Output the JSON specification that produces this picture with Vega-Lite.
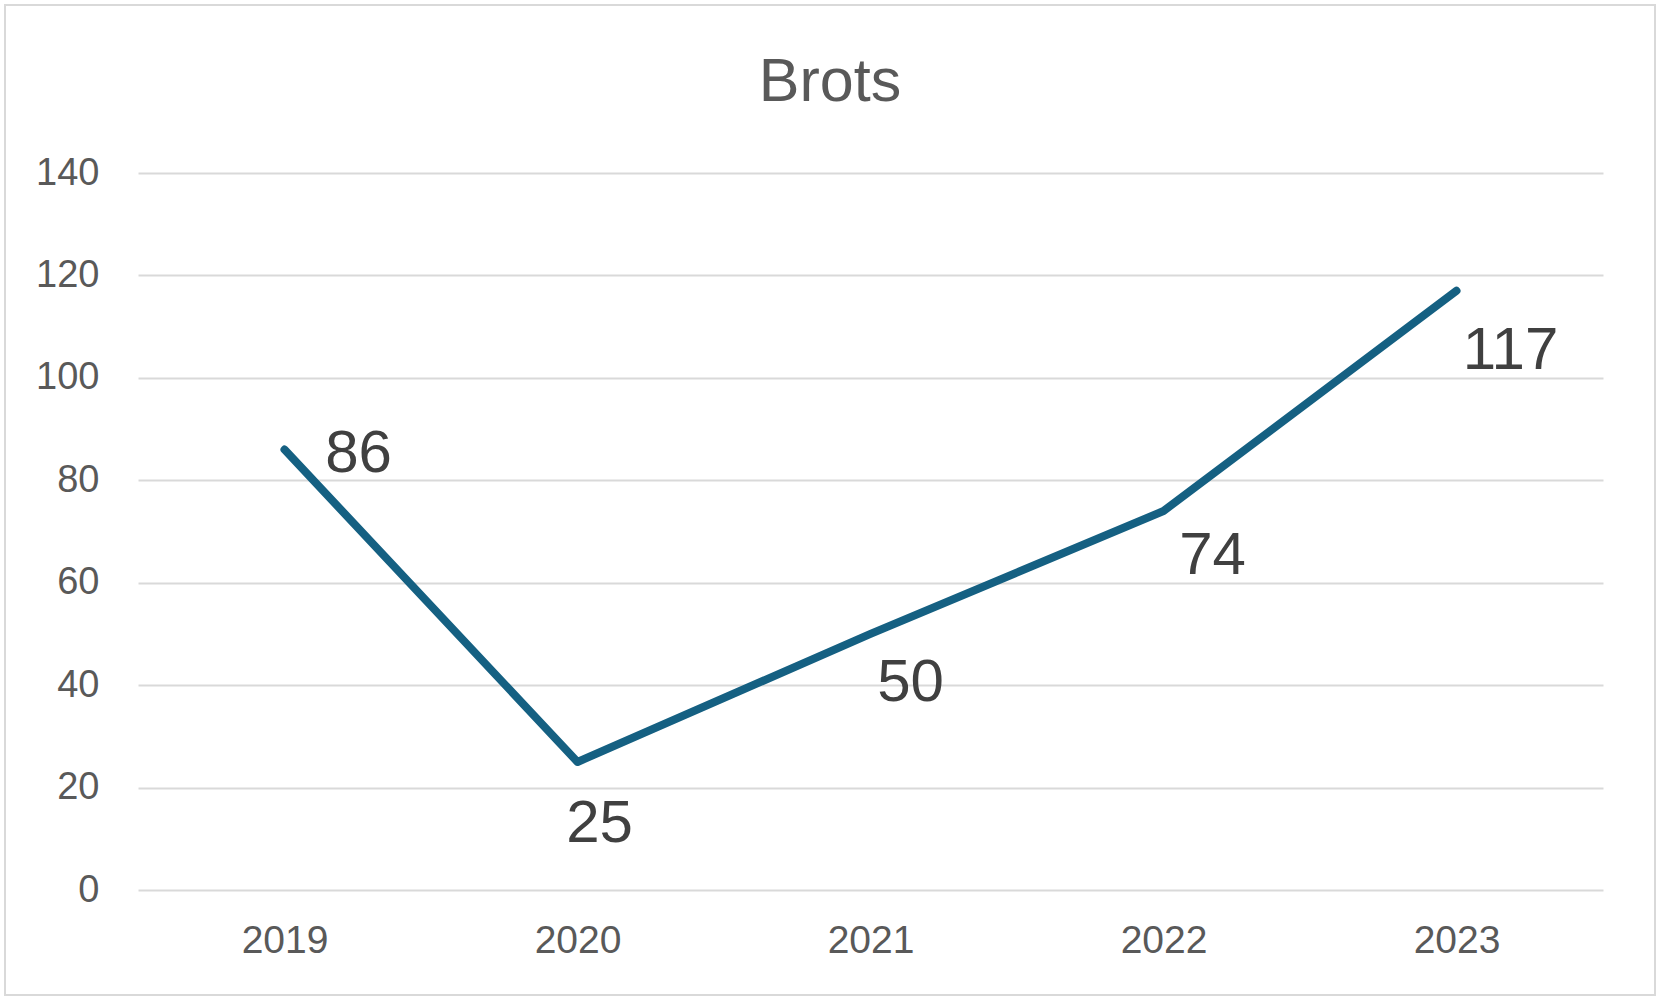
{
  "$schema": "https://vega.github.io/schema/vega-lite/v6.json",
  "width": 1650,
  "height": 990,
  "autosize": "none",
  "padding": {"left": 5, "top": 5, "right": 8, "bottom": 8},
  "background": "white",
  "title": {
    "text": "Brots",
    "fontSize": 61,
    "fontWeight": "normal",
    "font": "Liberation Sans",
    "color": "#595959",
    "baseline": "alphabetic",
    "offset": -157,
    "anchor": "middle"
  },
  "config": {
    "view": {"stroke": "#d9d9d9", "strokeWidth": 2},
    "font": "Liberation Sans"
  },
  "data": {
    "values": [
      {"year": "2019", "value": 86},
      {"year": "2020", "value": 25},
      {"year": "2021", "value": 50},
      {"year": "2022", "value": 74},
      {"year": "2023", "value": 117}
    ]
  },
  "encoding": {
    "x": {
      "field": "year",
      "type": "ordinal",
      "sort": null,
      "scale": {"type": "point", "padding": 0.5, "range": [133, 1598]},
      "axis": {
        "title": null,
        "grid": false,
        "domain": false,
        "ticks": false,
        "labelAngle": 0,
        "labelFontSize": 39,
        "labelColor": "#595959",
        "labelBaseline": "middle",
        "labelPadding": 0,
        "offset": -55
      }
    },
    "y": {
      "field": "value",
      "type": "quantitative",
      "scale": {"domain": [0, 140], "nice": false, "range": [885, 168]},
      "axis": {
        "title": null,
        "values": [0, 20, 40, 60, 80, 100, 120, 140],
        "domain": false,
        "ticks": false,
        "gridColor": "#d9d9d9",
        "gridWidth": 2,
        "labelFontSize": 38,
        "labelColor": "#595959",
        "labelPadding": 0,
        "offset": -94
      }
    }
  },
  "layer": [
    {
      "mark": {"type": "line", "color": "#156082", "strokeWidth": 8, "strokeCap": "round", "strokeJoin": "round"}
    },
    {
      "transform": [{"filter": "datum.year == '2019'"}],
      "mark": {"type": "text", "fontSize": 60, "color": "#404040", "align": "center", "baseline": "middle", "dx": 74, "dy": 4},
      "encoding": {"text": {"field": "value"}}
    },
    {
      "transform": [{"filter": "datum.year == '2020'"}],
      "mark": {"type": "text", "fontSize": 60, "color": "#404040", "align": "center", "baseline": "middle", "dx": 22, "dy": 62},
      "encoding": {"text": {"field": "value"}}
    },
    {
      "transform": [{"filter": "datum.year == '2021'"}],
      "mark": {"type": "text", "fontSize": 60, "color": "#404040", "align": "center", "baseline": "middle", "dx": 40, "dy": 49},
      "encoding": {"text": {"field": "value"}}
    },
    {
      "transform": [{"filter": "datum.year == '2022'"}],
      "mark": {"type": "text", "fontSize": 60, "color": "#404040", "align": "center", "baseline": "middle", "dx": 49, "dy": 45},
      "encoding": {"text": {"field": "value"}}
    },
    {
      "transform": [{"filter": "datum.year == '2023'"}],
      "mark": {"type": "text", "fontSize": 60, "color": "#404040", "align": "center", "baseline": "middle", "dx": 54, "dy": 60},
      "encoding": {"text": {"field": "value"}}
    }
  ]
}
